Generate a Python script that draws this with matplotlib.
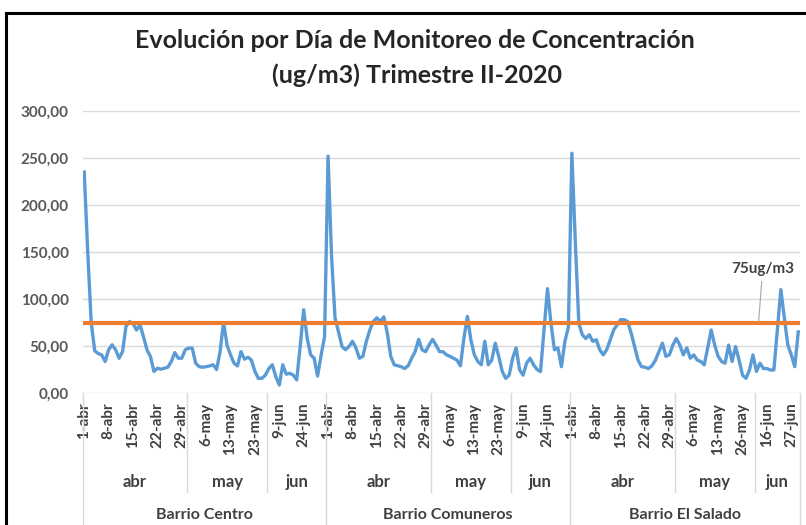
import matplotlib
matplotlib.use("Agg")
import matplotlib.pyplot as plt
import matplotlib.transforms as mtransforms
from matplotlib.lines import Line2D
import numpy as np

# ---------------- data ----------------
title_text = "Evolución por Día de Monitoreo de Concentración\n(ug/m3) Trimestre II-2020"
regions = ["Barrio Centro", "Barrio Comuneros", "Barrio El Salado"]
months = ["abr", "may", "jun"]

centro_month_days = [30, 23, 17]
comuneros_month_days = [30, 23, 17]
salado_month_days = [30, 23, 13]

centro_ticklabels = ["1-abr", "8-abr", "15-abr", "22-abr", "29-abr",
                     "6-may", "13-may", "23-may", "9-jun", "24-jun"]
comuneros_ticklabels = ["1-abr", "8-abr", "15-abr", "22-abr", "29-abr",
                        "6-may", "13-may", "23-may", "9-jun", "24-jun"]
salado_ticklabels = ["1-abr", "8-abr", "15-abr", "22-abr", "29-abr",
                     "6-may", "13-may", "26-may", "16-jun", "27-jun"]
tick_step = 7

centro = [235, 150, 75, 45, 42, 40.6, 33.5, 46, 51.3, 46,
          37, 44, 71, 76, 74, 67, 72.6, 60, 46, 39,
          23, 26.3, 25.3, 26.3, 27.4, 33.5, 43, 37, 37, 46,
          47.7, 47.7, 31.7, 28, 27.4, 28, 28.8, 30, 25, 44,
          75, 51, 40.6, 31.7, 28.8, 44, 36, 38, 35, 23,
          15.6, 15.6, 19, 26, 30, 17.4, 8.5, 30, 20, 21,
          19, 14, 49.5, 88.6, 58.4, 40.6, 37, 18, 40, 60]
comuneros = [252, 146, 80, 65, 49.5, 46, 49.5, 55, 48, 37,
             39, 55, 67, 76, 80, 76, 81, 64, 39, 30,
             29, 28, 26, 29, 37, 44, 57, 46, 44, 51,
             57, 51, 44, 44, 40.6, 39, 37, 35, 29, 58,
             81.5, 56.6, 40.6, 33.5, 30, 55, 30, 35, 53, 39,
             23, 15.6, 19, 37, 48, 24.5, 19, 31.7, 37, 30,
             25, 22.8, 67, 111, 74, 46, 48, 28, 55, 70]
salado = [255, 160, 74, 62, 58, 62, 55, 56.6, 46, 40.6,
          46, 56.6, 67, 72.6, 78, 78, 76, 64, 49.5, 35,
          28, 27.4, 26, 29, 35, 44, 53, 39, 40.6, 51,
          58, 51, 40.6, 48, 37, 40.6, 35, 33.5, 30, 48,
          67, 51, 39, 33.5, 31.7, 51, 33.5, 49.5, 35, 19,
          15.6, 24.5, 40.6, 23, 31.7, 26, 26, 24.5, 24.5, 67,
          110, 80, 51, 40.6, 28, 65]

limit_value = 75
limit_label = "75ug/m3"
y_ticks = [0, 50, 100, 150, 200, 250, 300]

# ---------------- style ----------------
FONT = "Lato"
plt.rcParams["font.family"] = [FONT, "DejaVu Sans"]
BLUE = "#5B9BD5"
ORANGE = "#ED7D31"
GRID = "#D9D9D9"
TXT = "#404040"

W, H = 806, 525
fig = plt.figure(figsize=(W / 100, H / 100), dpi=100)
fig.patch.set_facecolor("white")

ax_l, ax_r, ax_b, ax_t = 82.5, 800, 393, 111
ax = fig.add_axes([ax_l / W, 1 - ax_b / H, (ax_r - ax_l) / W, (ax_b - ax_t) / H])

series = [centro, comuneros, salado]
month_days = [centro_month_days, comuneros_month_days, salado_month_days]
ticklabel_sets = [centro_ticklabels, comuneros_ticklabels, salado_ticklabels]

values = np.concatenate([np.asarray(s, dtype=float) for s in series])
n = len(values)
x = np.arange(n)

ax.plot(x, values, color=BLUE, lw=2.4, solid_joinstyle="round", zorder=3)
ax.plot(x, np.full(n, limit_value), color=ORANGE, lw=3.0, zorder=4)

ax.set_xlim(-0.5, n - 0.5)
ax.set_ylim(y_ticks[0], y_ticks[-1])
ax.set_yticks(y_ticks)
ax.set_yticklabels([f"{v:.2f}".replace(".", ",") for v in y_ticks],
                   fontsize=11, fontweight="bold", color="#595959")
ax.yaxis.grid(True, color=GRID, lw=1.0, zorder=0)
ax.set_axisbelow(True)
for sp in ax.spines.values():
    sp.set_visible(False)
ax.tick_params(axis="y", length=0, pad=10)

# category tick labels
tick_pos, tick_lab = [], []
offset = 0
for s, labs in zip(series, ticklabel_sets):
    for k, lab in enumerate(labs):
        tick_pos.append(offset + k * tick_step)
        tick_lab.append(lab)
    offset += len(s)
ax.set_xticks(tick_pos)
ax.set_xticklabels(tick_lab, rotation=90, fontsize=11, fontweight="bold", color=TXT)
ax.tick_params(axis="x", length=0, pad=7)

# multi-level separators and labels
trans = mtransforms.blended_transform_factory(ax.transData, ax.transAxes)
axh = ax_b - ax_t
month_y = -(482 - ax_b) / axh
region_y = -(515 - ax_b) / axh
month_sep_bottom = -(492 - ax_b) / axh
region_sep_bottom = -(530 - ax_b) / axh

offset = 0
ax.plot([-0.5, -0.5], [0, region_sep_bottom], transform=trans, clip_on=False,
        color=GRID, lw=1.0)
for s, md, reg in zip(series, month_days, regions):
    start = offset
    for m, d in zip(months, md):
        left = start - 0.5
        right = start + d - 0.5
        ax.text((left + right) / 2, month_y, m, transform=trans, ha="center", va="center",
                fontsize=12, fontweight="bold", color=TXT)
        start += d
        if start < offset + len(s):
            ax.plot([right, right], [0, month_sep_bottom], transform=trans, clip_on=False,
                    color=GRID, lw=1.0)
    end = offset + len(s) - 0.5
    ax.text((offset - 0.5 + end) / 2, region_y, reg, transform=trans, ha="center",
            va="center", fontsize=11.5, fontweight="bold", color=TXT)
    ax.plot([end, end], [0, region_sep_bottom], transform=trans, clip_on=False,
            color=GRID, lw=1.0)
    offset += len(s)

# limit annotation
ax.annotate(limit_label, xy=(193.6, limit_value), xytext=(194.8, 132),
            ha="center", va="center", fontsize=11, fontweight="bold", color=TXT,
            arrowprops=dict(arrowstyle="-", color="#A6A6A6", lw=0.8,
                            shrinkA=2, shrinkB=0), zorder=5)

# title
lines = title_text.split("\n")
fig.text(415 / W, 1 - 41 / H, lines[0], ha="center", va="center",
         fontsize=18, fontweight="bold", color="#262626")
fig.text(417 / W, 1 - 75 / H, lines[1], ha="center", va="center",
         fontsize=18, fontweight="bold", color="#262626")

# outer frame (left + top)
fig.add_artist(Line2D([6 / W, 6 / W], [0, 1 - 13 / H], transform=fig.transFigure,
                      color="black", lw=2.2))
fig.add_artist(Line2D([6 / W, 1], [1 - 13 / H, 1 - 13 / H], transform=fig.transFigure,
                      color="black", lw=2.2))

fig.savefig("out.png", dpi=100, facecolor="white")
